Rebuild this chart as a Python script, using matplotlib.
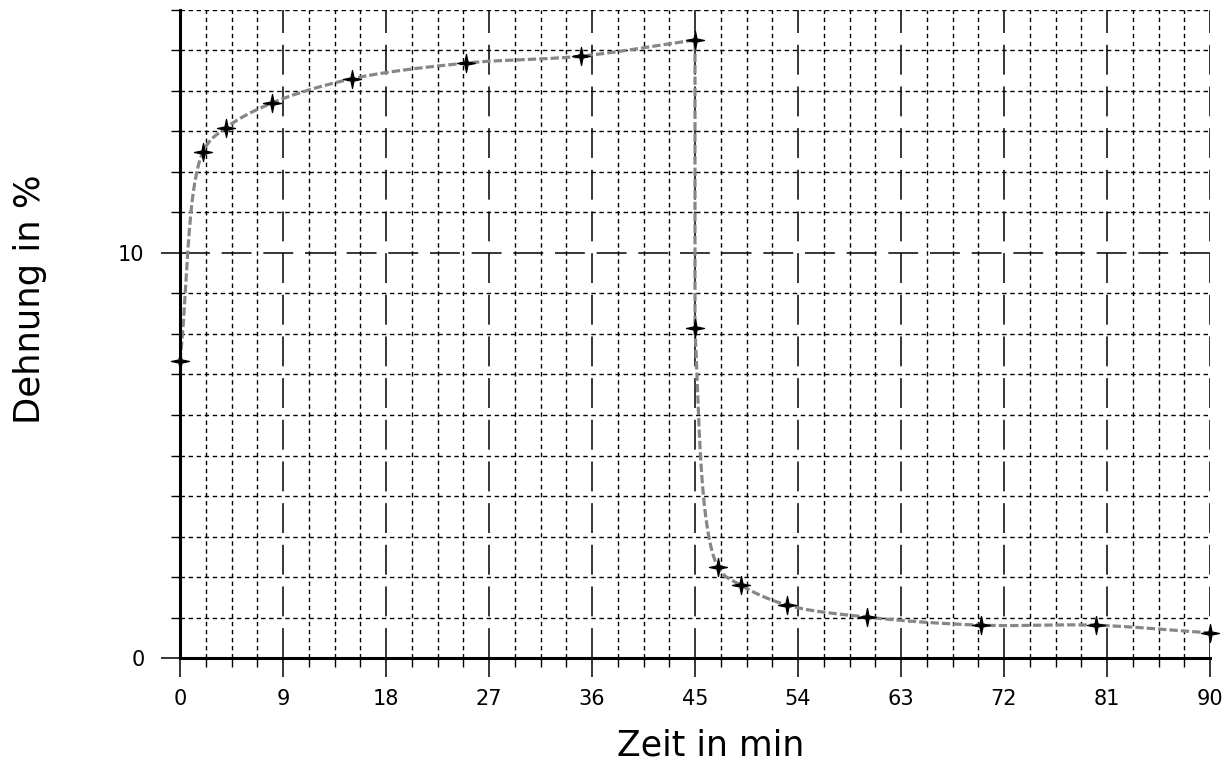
import numpy as np
import matplotlib
matplotlib.use("Agg")
import matplotlib.pyplot as plt
from matplotlib.path import Path
from matplotlib.ticker import MultipleLocator, FixedLocator

# ---- data ----
load_time = [0, 2, 4, 8, 15, 25, 35, 45]
load_strain = [7.33, 12.49, 13.09, 13.70, 14.30, 14.69, 14.86, 15.26]
unload_time = [45, 47, 49, 53, 60, 70, 80, 90]
unload_strain = [8.15, 2.25, 1.80, 1.31, 1.01, 0.81, 0.81, 0.62]
x_ticks = [0, 9, 18, 27, 36, 45, 54, 63, 72, 81, 90]
y_ticks = [0, 10]

plt.rcParams['lines.scale_dashes'] = False
plt.rcParams['font.family'] = ['DejaVu Sans']

fig = plt.figure(figsize=(12.32, 7.62), dpi=100)
ax = fig.add_axes([180/1232, 1-658/762, 1030/1232, 648/762])
ax.set_xlim(0, 90)
ax.set_ylim(0, 16)

for s in ['top', 'right']:
    ax.spines[s].set_visible(False)
for s in ['left', 'bottom']:
    ax.spines[s].set_linewidth(2.2)
    ax.spines[s].set_zorder(5)

ax.xaxis.set_major_locator(FixedLocator(x_ticks))
ax.xaxis.set_minor_locator(MultipleLocator(2.25))
ax.yaxis.set_major_locator(FixedLocator(y_ticks))
ax.yaxis.set_minor_locator(MultipleLocator(1))

ax.tick_params(which='major', length=13.5, width=1.1, labelsize=15, pad=9, color='black')
ax.tick_params(axis='y', which='major', pad=12)
ax.tick_params(which='minor', length=6.5, width=1.0, color='black')

ax.grid(which='major', color='black', linewidth=1.1, linestyle=(0, (21.5, 8.5)))
ax.grid(which='minor', color='black', linewidth=1.0, linestyle=(0, (3.2, 2.6)))
ax.set_axisbelow(True)

# ---- smooth curve (centripetal Catmull-Rom in display space) ----
W = 1030.0
H = 648.0
sx, sy = W / 90.0, H / 16.0


def catmull_rom(P, pre=None, post=None, n=40, alpha=0.5):
    P = np.asarray(P, float)
    first = P[0] * 2 - P[1] if pre is None else np.asarray(pre, float)
    last = P[-1] * 2 - P[-2] if post is None else np.asarray(post, float)
    ext = np.vstack([first, P, last])
    out = []
    for i in range(len(P) - 1):
        p0, p1, p2, p3 = ext[i:i + 4]
        t0 = 0.0
        t1 = t0 + max(np.linalg.norm(p1 - p0), 1e-6) ** alpha
        t2 = t1 + max(np.linalg.norm(p2 - p1), 1e-6) ** alpha
        t3 = t2 + max(np.linalg.norm(p3 - p2), 1e-6) ** alpha
        t = np.linspace(t1, t2, n)[:, None]
        A1 = (t1 - t) / (t1 - t0) * p0 + (t - t0) / (t1 - t0) * p1
        A2 = (t2 - t) / (t2 - t1) * p1 + (t - t1) / (t2 - t1) * p2
        A3 = (t3 - t) / (t3 - t2) * p2 + (t - t2) / (t3 - t2) * p3
        B1 = (t2 - t) / (t2 - t0) * A1 + (t - t0) / (t2 - t0) * A2
        B2 = (t3 - t) / (t3 - t1) * A2 + (t - t1) / (t3 - t1) * A3
        C = (t2 - t) / (t2 - t1) * B1 + (t - t1) / (t2 - t1) * B2
        out.append(C if i == 0 else C[1:])
    return np.vstack(out)


def to_px(xs, ys):
    return np.column_stack([np.asarray(xs) * sx, np.asarray(ys) * sy])


c1 = catmull_rom(to_px(load_time, load_strain))
c2 = catmull_rom(to_px(unload_time, unload_strain),
                 pre=to_px([load_time[-1]], [load_strain[-1]])[0])
curve = np.vstack([c1, c2])
cx, cy = curve[:, 0] / sx, curve[:, 1] / sy

ax.plot(cx, cy, color='#878787', linewidth=2.3, linestyle=(0, (6.0, 2.2)),
        zorder=3, solid_capstyle='butt')

# 4-point star marker
r_in = 0.24
verts = []
for k in range(8):
    ang = np.pi / 2 + k * np.pi / 4
    r = 1.0 if k % 2 == 0 else r_in
    verts.append((r * np.cos(ang), r * np.sin(ang)))
verts.append(verts[0])
codes = [Path.MOVETO] + [Path.LINETO] * 7 + [Path.CLOSEPOLY]
star = Path(verts, codes)

all_t = load_time + unload_time
all_s = load_strain + unload_strain
ax.plot(all_t, all_s, linestyle='none', marker=star, markersize=13,
        color='black', markeredgewidth=0.9, zorder=4, clip_on=False)

ax.set_xlabel('Zeit in min', fontsize=25)
ax.set_ylabel('Dehnung in %', fontsize=25.5)
ax.xaxis.set_label_coords((711 - 180) / 1030, (658 - 755) / 648)
ax.xaxis.label.set_va('baseline')
ax.yaxis.set_label_coords((40 - 180) / 1030, (658 - 299) / 648)
ax.yaxis.label.set_va('baseline')

fig.savefig('out.png', dpi=100)
